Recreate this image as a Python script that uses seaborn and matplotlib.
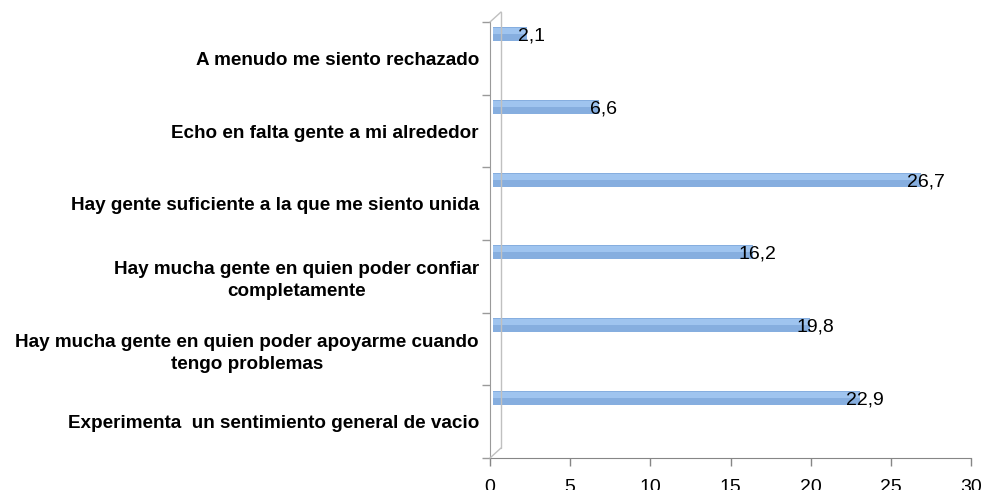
import matplotlib
matplotlib.use('Agg')
import matplotlib.pyplot as plt
import seaborn as sns
from matplotlib.transforms import ScaledTranslation

# Datos
categorias = [
    'A menudo me siento rechazado',
    'Echo en falta gente a mi alrededor',
    'Hay gente suficiente a la que me siento unida',
    'Hay mucha gente en quien poder confiar\ncompletamente',
    'Hay mucha gente en quien poder apoyarme cuando\ntengo problemas',
    'Experimenta  un sentimiento general de vacio',
]
valores = [2.1, 6.6, 26.7, 16.2, 19.8, 22.9]
xticks = [0, 5, 10, 15, 20, 25, 30]

sns.set_style('white')
plt.rcParams['font.family'] = ['Liberation Sans', 'DejaVu Sans']
plt.rcParams['text.color'] = 'black'
plt.rcParams['xtick.color'] = 'black'
plt.rcParams['ytick.color'] = 'black'

fig = plt.figure(figsize=(9.82, 4.90), dpi=100)
ax = fig.add_axes([490 / 982, 1 - 458 / 490, (971 - 490) / 982, (458 - 22) / 490])

# Barras (efecto 3D: desplazadas hacia arriba/derecha)
sns.barplot(x=valores, y=categorias, orient='h', color='#86AEDF',
            saturation=1, width=0.19, ax=ax)
n_base = len(ax.patches)
sns.barplot(x=valores, y=categorias, orient='h', color='#9FC4EF',
            saturation=1, width=0.08, ax=ax)

desp = ScaledTranslation(3 / 100, 24 / 100, fig.dpi_scale_trans)
brillo = ScaledTranslation(3 / 100, 27 / 100, fig.dpi_scale_trans)
for i, p in enumerate(ax.patches):
    p.set_edgecolor('none')
    p.set_transform(ax.transData + (desp if i < n_base else brillo))

# Etiquetas de valores
etiq = ScaledTranslation(7.5 / 100, 22 / 100, fig.dpi_scale_trans)
for i, v in enumerate(valores):
    ax.text(v, i, f'{v:.1f}'.replace('.', ','), ha='center', va='center',
            fontsize=14, color='black', transform=ax.transData + etiq)

ax.set_xlim(0, 30)
ax.set_ylim(len(categorias) - 0.5, -0.5)
ax.set_xticks(xticks)
ax.set_xlabel('')
ax.set_ylabel('')

# Ejes
for s in ['top', 'right']:
    ax.spines[s].set_visible(False)
ax.spines['left'].set_color('#9a9a9a')
ax.spines['bottom'].set_color('#868686')
ax.tick_params(axis='x', length=6, width=1, color='#868686', direction='out',
               labelsize=14, pad=9, bottom=True)
ax.tick_params(axis='y', which='major', length=0, pad=8)
ax.set_yticks([i - 0.5 for i in range(len(categorias) + 1)], minor=True)
ax.tick_params(axis='y', which='minor', length=6, width=1, color='#9a9a9a',
               direction='out', left=True)
for lab in ax.get_yticklabels():
    lab.set_fontweight('bold')
    lab.set_fontsize(13.6)
    lab.set_color('black')
    lab.set_multialignment('center')
    lab.set_linespacing(1.35)

# Pared del grafico 3D
pared = ScaledTranslation(11 / 100, 10 / 100, fig.dpi_scale_trans)
ax.plot([0, 0], [0, 1], transform=ax.transAxes + pared, color='#c0c0c0',
        lw=1, clip_on=False)
for y in (0, 1):
    ax.annotate('', xy=(0, y), xycoords='axes fraction', xytext=(11, 10),
                textcoords='offset pixels',
                arrowprops=dict(arrowstyle='-', color='#c0c0c0', lw=1,
                                shrinkA=0, shrinkB=0))

fig.savefig('out.png', dpi=100)
